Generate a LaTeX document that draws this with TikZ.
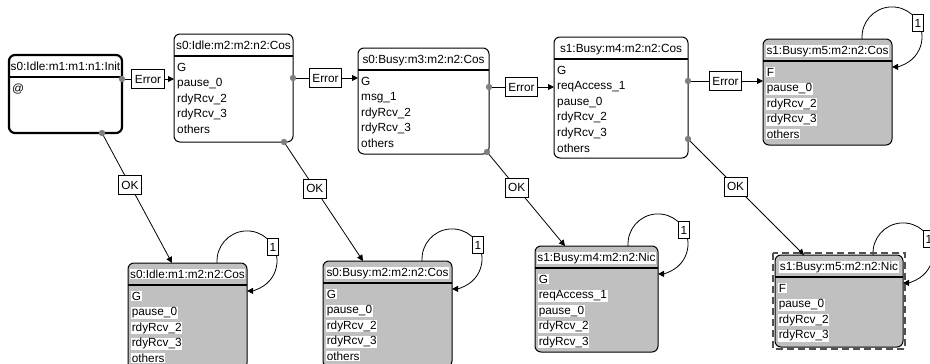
\documentclass[tikz,border=0pt]{standalone}
\usepackage{fontspec}
\setmainfont{Liberation Sans}
\usetikzlibrary{arrows.meta,backgrounds}
\definecolor{boxgray}{HTML}{C0C0C0}
\definecolor{portgray}{HTML}{808080}
\definecolor{selgray}{HTML}{505050}
\tikzset{
  x=1pt,y=1pt,
  every node/.style={font=\fontsize{11.8}{14}\selectfont},
  basebox/.style={draw=black, rounded corners=6pt, inner sep=0pt, outer sep=0pt, anchor=north west, line width=1pt},
  wbox/.style={basebox, fill=white},
  abox/.style={basebox, fill=white, line width=2.2pt},
  gbox/.style={basebox, fill=boxgray},
  wtxt/.style={inner sep=0pt, anchor=base west},
  atxt/.style={wtxt},
  gtxt/.style={inner sep=0.6pt, fill=white, anchor=base west},
  wtitle/.style={inner sep=0pt, anchor=base},
  atitle/.style={wtitle},
  gtitle/.style={inner sep=0.6pt, fill=white, anchor=base},
  sepline/.style={draw=black, line width=1.2pt},
  conn/.style={draw=black, line width=0.8pt},
  arr/.style={conn, -{Triangle[length=6pt,width=6pt]}},
  lbl/.style={draw=black, fill=white, line width=0.8pt, inner xsep=3pt, inner ysep=0pt, minimum height=19pt},
  looplbl/.style={lbl, inner xsep=2pt, minimum height=17pt},
  selbox/.style={draw=selgray, line width=1.3pt, dash pattern=on 7pt off 4pt},
}
% #1 style prefix, #2 name, #3 x, #4 y (top), #5 width, #6 height, #7 title, #8 lines
\newcommand{\stbox}[8]{%
  \node[#1box, minimum width=#5pt, minimum height=#6pt] (#2) at (#3,-#4) {};
  \draw[sepline] ([yshift=-22pt]#2.north west) -- ([yshift=-22pt]#2.north east);
  \node[#1title] (#2-title) at ([yshift=-15pt]#2.north) {#7};
  \foreach \itm [count=\i from 0] in {#8} {%
    \node[#1txt] (#2-l\i) at ([xshift=3pt,yshift={-37pt-15.6pt*\i}]#2.north west) {\itm};
  }%
}
% self loop on box #1, label named #2
\newcommand{\selfloop}[2]{%
  \draw[arr] ([xshift=-29.9pt]#1.north east) arc[start angle=184, end angle=-90, radius=30pt];
  \node[looplbl] (#2) at ([xshift=26pt,yshift=16pt]#1.north east) {1};
}
\begin{document}
\begin{tikzpicture}
\useasboundingbox (0,0) rectangle (930,-364);

\stbox{a}{A}{9}{55}{113}{78}{s0:Idle:m1:m1:n1:Init}{@}
\stbox{w}{B}{174}{34}{119}{108}{s0:Idle:m2:m2:n2:Cos}{G,pause\_0,rdyRcv\_2,rdyRcv\_3,others}
\stbox{w}{C}{358}{48}{131}{106}{s0:Busy:m3:m2:n2:Cos}{G,msg\_1,rdyRcv\_2,rdyRcv\_3,others}
\stbox{w}{D}{554}{37}{134}{121}{s1:Busy:m4:m2:n2:Cos}{G,reqAccess\_1,pause\_0,rdyRcv\_2,rdyRcv\_3,others}
\stbox{g}{E}{763}{39}{129}{106}{s1:Busy:m5:m2:n2:Cos}{F,pause\_0,rdyRcv\_2,rdyRcv\_3,others}
\stbox{g}{F}{128}{263}{119}{106}{s0:Idle:m1:m2:n2:Cos}{G,pause\_0,rdyRcv\_2,rdyRcv\_3,others}
\stbox{g}{G}{323}{261}{129}{106}{s0:Busy:m2:m2:n2:Cos}{G,pause\_0,rdyRcv\_2,rdyRcv\_3,others}
\stbox{g}{H}{535}{246}{123}{106}{s1:Busy:m4:m2:n2:Nic}{G,reqAccess\_1,pause\_0,rdyRcv\_2,rdyRcv\_3}
\stbox{g}{I}{775}{255}{128}{92}{s1:Busy:m5:m2:n2:Nic}{F,pause\_0,rdyRcv\_2,rdyRcv\_3}

\draw[selbox] ([shift={(-2pt,2pt)}]I.north west) rectangle ([shift={(2pt,-2pt)}]I.south east);

% output ports
\coordinate (pA1) at ([yshift=-24pt]A.north east);
\coordinate (pA2) at ([xshift=-20pt]A.south east);
\coordinate (pB1) at ([yshift=-44pt]B.north east);
\coordinate (pB2) at ([xshift=-9pt]B.south east);
\coordinate (pC1) at ([yshift=-39pt]C.north east);
\coordinate (pC2) at ([xshift=-2pt,yshift=2pt]C.south east);
\coordinate (pD1) at ([yshift=-44pt]D.north east);
\coordinate (pD2) at ([yshift=19pt]D.south east);
\foreach \p in {pA1,pA2,pB1,pB2,pC1,pC2,pD1,pD2} \fill[portgray] (\p) circle (3.2pt);

\begin{pgfonlayer}{background}
  % Error transitions
  \draw[arr] (pA1) -- node[lbl] (err1) {Error} (pA1 -| B.west);
  \draw[arr] (pB1) -- node[lbl] (err2) {Error} (pB1 -| C.west);
  \draw[arr] (pC1) -- node[lbl] (err3) {Error} (pC1 -| D.west);
  \draw[arr] (pD1) -- node[lbl] (err4) {Error} (pD1 -| E.west);

  % OK transitions
  \draw[arr] (pA2) -- node[lbl, pos=0.40] (ok1) {OK} ([xshift=44pt]F.north west);
  \draw[arr] (pB2) -- node[lbl, pos=0.39] (ok2) {OK} ([xshift=40pt]G.north west);
  \draw[arr] (pC2) -- node[lbl, pos=0.38] (ok3) {OK} ([xshift=30pt]H.north west);
  \draw[arr] (pD2) -- node[lbl, pos=0.41] (ok4) {OK} ([xshift=29pt]I.north west);

  % self loops
  \selfloop{E}{one1}
  \selfloop{F}{one2}
  \selfloop{G}{one3}
  \selfloop{H}{one4}
  \selfloop{I}{one5}
\end{pgfonlayer}
\end{tikzpicture}
\end{document}
